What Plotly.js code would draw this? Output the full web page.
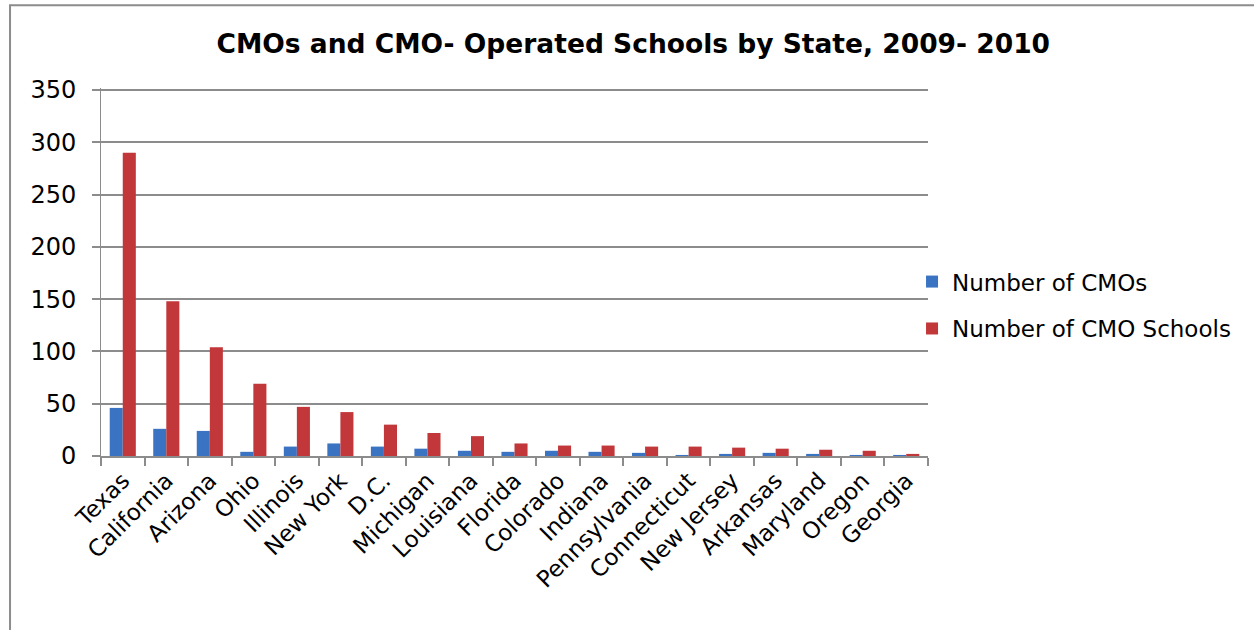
<!DOCTYPE html>
<html>
<head>
<meta charset="utf-8">
<script src="https://cdn.plot.ly/plotly-3.0.1.min.js"></script>
<style>
  html, body { margin: 0; padding: 0; background: #fff; }
  #chart { width: 1254px; height: 630px; }
</style>
</head>
<body>
<div id="chart"></div>
<script>
const states = ["Texas", "California", "Arizona", "Ohio", "Illinois", "New York", "D.C.", "Michigan", "Louisiana", "Florida", "Colorado", "Indiana", "Pennsylvania", "Connecticut", "New Jersey", "Arkansas", "Maryland", "Oregon", "Georgia"];
const numCMOs = [46, 26, 24, 4, 9, 12, 9, 7, 5, 4, 5, 4, 3, 1, 2, 3, 2, 1, 1];
const numCMOSchools = [290, 148, 104, 69, 47, 42, 30, 22, 19, 12, 10, 10, 9, 9, 8, 7, 6, 5, 2];
const yTicks = [0, 50, 100, 150, 200, 250, 300, 350];

const FONT = "DejaVu Sans, Verdana, sans-serif";

const traces = [
  {
    type: "bar", name: "Number of CMOs", x: states, y: numCMOs,
    marker: { color: "#3a73c2" }, legendgroup: "a"
  },
  {
    type: "bar", name: "Number of CMO Schools", x: states, y: numCMOSchools,
    marker: { color: "#c2373a" }, legendgroup: "b"
  }
];

const layout = {
  width: 1254, height: 630,
  margin: { l: 101, r: 326, t: 88, b: 174 },
  paper_bgcolor: "#fff", plot_bgcolor: "#fff",
  font: { family: FONT, color: "#000", size: 20 },
  title: {
    text: "<b>CMOs and CMO- Operated Schools by State, 2009- 2010</b>",
    font: { family: FONT, size: 26.5, color: "#000" },
    x: 0.505, xanchor: "center", y: 0.93, yanchor: "middle"
  },
  barmode: "group", bargap: 0.4, bargroupgap: 0,
  xaxis: {
    type: "category", tickangle: -45,
    showline: true, linecolor: "#8c8c8c", linewidth: 2,
    ticks: "outside", tickson: "boundaries", ticklen: 8, tickcolor: "#8c8c8c", tickwidth: 2,
    tickfont: { family: FONT, size: 23, color: "#000" },
    showgrid: false, zeroline: false, fixedrange: true
  },
  yaxis: {
    range: [0, 352], tickvals: yTicks, ticktext: yTicks.map(String),
    showline: true, linecolor: "#8c8c8c", linewidth: 1,
    ticks: "outside", ticklen: 8, tickcolor: "#8c8c8c", tickwidth: 2,
    tickfont: { family: FONT, size: 24, color: "#000" },
    showgrid: true, gridcolor: "#8c8c8c", gridwidth: 2,
    zeroline: false, ticklabelstandoff: 11, fixedrange: true
  },
  legend: {
    x: 0.9807, xanchor: "left", y: 0.41, yanchor: "middle",
    font: { family: FONT, size: 23, color: "#000" },
    traceorder: "grouped", tracegroupgap: 14, itemwidth: 30,
    bgcolor: "rgba(0,0,0,0)"
  },
  shapes: [{
    type: "rect", xref: "paper", yref: "paper",
    x0: -0.11, x1: 1.5, y0: -0.6, y1: 1.225,
    line: { color: "#8c8c8c", width: 2 }, fillcolor: "rgba(0,0,0,0)", layer: "below"
  }],
  showlegend: true
};

Plotly.newPlot("chart", traces, layout, { displayModeBar: false, staticPlot: true });
</script>
</body>
</html>
